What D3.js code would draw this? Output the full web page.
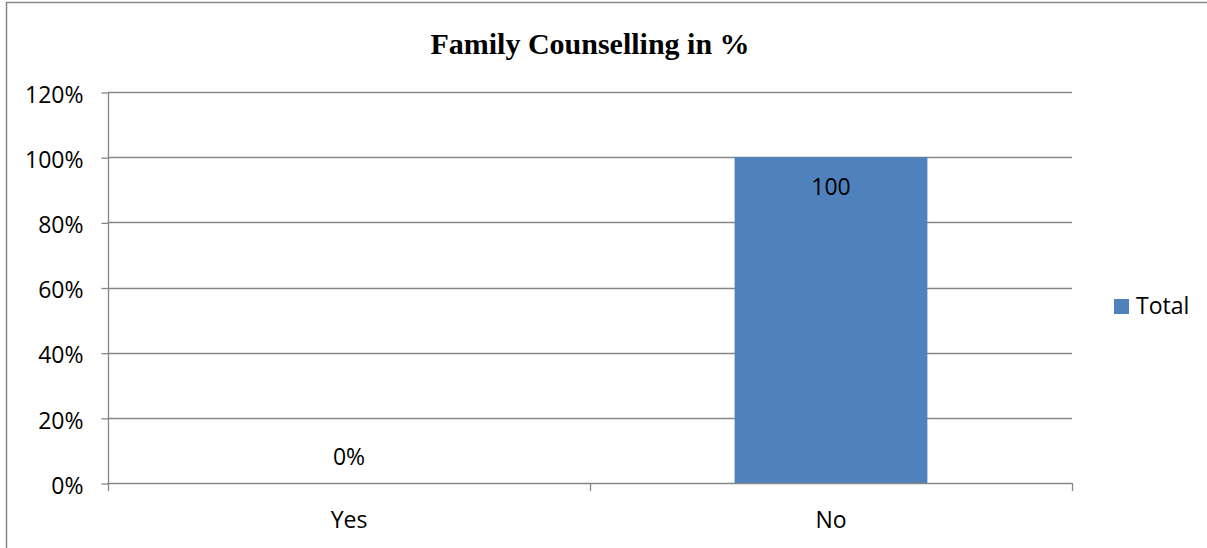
<!DOCTYPE html>
<html>
<head>
<meta charset="utf-8">
<script src="https://cdn.jsdelivr.net/npm/d3@7"></script>
<style>
  html, body { margin: 0; padding: 0; background: #ffffff; overflow: hidden; }
  svg { display: block; }
</style>
</head>
<body>
<svg id="chart" width="1207" height="548"></svg>
<script>
const chartTitle = "Family Counselling in %";
const categories = ["Yes", "No"];
const values = [0, 1.0];
const dataLabels = ["0%", "100"];
const yTicks = [0, 0.2, 0.4, 0.6, 0.8, 1.0, 1.2];
const yTickLabels = ["0%", "20%", "40%", "60%", "80%", "100%", "120%"];
const seriesName = "Total";

const W = 1207, H = 548;
const plot = { left: 108, right: 1072, top: 92, bottom: 483 };
const gridColor = "#868686";
const barColor = "#4F81BD";
const sans = "'Open Sans', sans-serif";
const fs = 23;

const svg = d3.select("#chart");

// outer frame: only top and left edges are inside the picture
svg.append("path")
  .attr("d", `M6.5,${H}V2.5H${W}`)
  .attr("fill", "none")
  .attr("stroke", "#878787")
  .attr("stroke-width", 1.5);

const y = d3.scaleLinear().domain([0, 1.2]).range([plot.bottom, plot.top]);
const x = d3.scaleBand().domain(categories)
  .range([plot.left, plot.right])
  .paddingInner(0.6).paddingOuter(0.3);

// gridlines
svg.append("g").selectAll("line").data(yTicks.slice(1)).join("line")
  .attr("x1", plot.left).attr("x2", plot.right)
  .attr("y1", d => Math.round(y(d)) + 0.5).attr("y2", d => Math.round(y(d)) + 0.5)
  .attr("stroke", gridColor).attr("stroke-width", 1.3);

// bars
svg.append("g").selectAll("rect").data(categories).join("rect")
  .attr("x", d => x(d))
  .attr("width", x.bandwidth())
  .attr("y", (d, i) => y(values[i]))
  .attr("height", (d, i) => y(0) - y(values[i]))
  .attr("fill", barColor);

// y axis
const yAxis = d3.axisLeft(y)
  .tickValues(yTicks)
  .tickFormat((d, i) => yTickLabels[i])
  .tickSize(7)
  .tickPadding(18);
const gy = svg.append("g")
  .attr("transform", `translate(${plot.left + 0.5},0.5)`)
  .call(yAxis);
gy.select(".domain").attr("stroke", gridColor).attr("stroke-width", 1.3)
  .attr("d", `M0,${plot.top}V${plot.bottom}`);
gy.selectAll(".tick line").attr("stroke", gridColor).attr("stroke-width", 1.3);
gy.selectAll(".tick text")
  .attr("font-family", sans).attr("font-size", fs).attr("fill", "#000")
  .attr("dy", "0.42em");

// x axis with category-boundary ticks
const step = x.step();
const boundaries = d3.range(categories.length + 1).map(i => plot.left + i * step);
const gx = svg.append("g");
gx.append("line")
  .attr("x1", plot.left).attr("x2", plot.right)
  .attr("y1", plot.bottom + 0.5).attr("y2", plot.bottom + 0.5)
  .attr("stroke", gridColor).attr("stroke-width", 1.3);
gx.selectAll("line.tk").data(boundaries).join("line").attr("class", "tk")
  .attr("x1", d => Math.round(d) + 0.5).attr("x2", d => Math.round(d) + 0.5)
  .attr("y1", plot.bottom).attr("y2", plot.bottom + 8)
  .attr("stroke", gridColor).attr("stroke-width", 1.3);
gx.selectAll("text").data(categories).join("text")
  .attr("x", d => x(d) + x.bandwidth() / 2)
  .attr("y", 528)
  .attr("text-anchor", "middle")
  .attr("font-family", sans).attr("font-size", fs).attr("fill", "#000")
  .text(d => d);

// data labels
svg.append("g").selectAll("text").data(categories).join("text")
  .attr("x", d => x(d) + x.bandwidth() / 2)
  .attr("y", (d, i) => values[i] > 0 ? y(values[i]) + 38 : y(0) - 18)
  .attr("text-anchor", "middle")
  .attr("font-family", sans).attr("font-size", fs).attr("fill", "#000")
  .text((d, i) => dataLabels[i]);

// title
svg.append("text")
  .attr("x", 590).attr("y", 54)
  .attr("text-anchor", "middle")
  .attr("font-family", "'Liberation Serif', 'Times New Roman', serif")
  .attr("font-weight", "bold")
  .attr("font-size", 30)
  .attr("fill", "#000")
  .text(chartTitle);

// legend
const lg = svg.append("g");
lg.append("rect")
  .attr("x", 1114).attr("y", 299).attr("width", 15).attr("height", 15)
  .attr("fill", barColor);
lg.append("text")
  .attr("x", 1136).attr("y", 314)
  .attr("font-family", sans).attr("font-size", fs).attr("fill", "#000")
  .text(seriesName);
</script>
</body>
</html>
